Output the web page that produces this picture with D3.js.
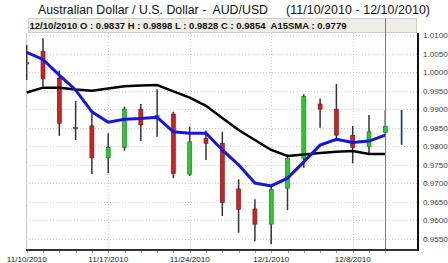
<!DOCTYPE html>
<html><head><meta charset="utf-8">
<script src="https://cdn.jsdelivr.net/npm/d3@7"></script>
<style>body{margin:0;background:#fff}svg{display:block}text{font-family:"Liberation Sans",Arial,sans-serif;white-space:pre}</style>
</head><body><svg id="c" width="448" height="263"></svg>
<script>
const dates = ["11/10/2010","11/11/2010","11/12/2010","11/15/2010","11/16/2010","11/17/2010","11/18/2010","11/19/2010","11/22/2010","11/23/2010","11/24/2010","11/25/2010","11/26/2010","11/29/2010","11/30/2010","12/1/2010","12/2/2010","12/3/2010","12/6/2010","12/7/2010","12/8/2010","12/9/2010","12/10/2010"];
const openV  = [1.0026,1.0055,0.9983,0.9851,0.9855,0.9769,0.9797,0.9900,0.9880,0.9887,0.9725,0.9821,0.9808,0.9685,0.9631,0.9590,0.9687,0.9767,0.9914,0.9900,0.9830,0.9799,0.9837];
const highV  = [1.0073,1.0091,1.0004,0.9922,0.9889,0.9835,0.9907,0.9914,0.9954,0.9893,0.9853,0.9843,0.9839,0.9711,0.9657,0.9696,0.9778,0.9940,0.9929,0.9968,0.9855,0.9884,0.9898];
const lowV   = [0.9979,0.9961,0.9828,0.9817,0.9725,0.9727,0.9788,0.9814,0.9826,0.9714,0.9720,0.9763,0.9612,0.9567,0.9544,0.9536,0.9628,0.9742,0.9850,0.9822,0.9754,0.9779,0.9828];
const closeV = [1.0026,0.9983,0.9862,0.9851,0.9769,0.9797,0.9900,0.9858,0.9883,0.9727,0.9812,0.9808,0.9648,0.9630,0.9590,0.9684,0.9767,0.9934,0.9900,0.9830,0.9797,0.9839,0.9854];
const fastMA = [1.0053,1.0034,0.9992,0.9952,0.9893,0.9865,0.9873,0.9875,0.9878,0.9839,0.9835,0.9835,0.9790,0.9750,0.9701,0.9693,0.9714,0.9758,0.9803,0.9819,0.9810,0.9814,0.9830];
const sma15  = [0.9945,0.9958,0.9958,0.9953,0.9950,0.9956,0.9962,0.9964,0.9965,0.9948,0.9931,0.9909,0.9876,0.9844,0.9817,0.9790,0.9774,0.9778,0.9782,0.9785,0.9787,0.9779,0.9779];
const nextHigh = 0.9898, nextLow = 0.9804;
const yTicks = [1.0100,1.0050,1.0000,0.9950,0.9900,0.9850,0.9800,0.9750,0.9700,0.9650,0.9600,0.9550];
const xLabelIdx = [0,5,10,15,20];
const titleMain = "Australian Dollar / U.S. Dollar -  AUD/USD";
const titleRange = "(11/10/2010 - 12/10/2010)";
const infoText = "12/10/2010 O : 0.9837 H : 0.9898 L : 0.9828 C : 0.9854  A15SMA : 0.9779";

const svg = d3.select("#c");
const L = 26, R = 418, T = 33, B = 250;
const x = d3.scaleLinear().domain([0, 23]).range([26.7, 26.7 + 23*16.3]);
const y = d3.scaleLinear().domain([0.9550, 1.0100]).range([239, 35]);

// title
svg.append("text").attr("x", 38).attr("y", 13.5).attr("font-size", 12.3)
  .attr("textLength", 230).attr("lengthAdjust", "spacing").attr("fill", "#111").text(titleMain);
svg.append("text").attr("x", 286).attr("y", 13.5).attr("font-size", 12.4)
  .attr("textLength", 144).attr("lengthAdjust", "spacing").attr("fill", "#111").text(titleRange);

// info bar
svg.append("rect").attr("x", 28.5).attr("y", 18.5).attr("width", 388).attr("height", 14).attr("fill", "#efeee6").attr("stroke", "#d0d0c8");
svg.append("text").attr("x", 29.5).attr("y", 28.6).attr("font-size", 9.5).attr("font-weight", "bold")
  .attr("textLength", 317).attr("lengthAdjust", "spacing").attr("fill", "#111").text(infoText);

// grid
const grid = svg.append("g");
grid.selectAll("line.h").data(yTicks).join("line")
  .attr("x1", L).attr("x2", R).attr("y1", d => Math.round(y(d))+0.5).attr("y2", d => Math.round(y(d))+0.5)
  .attr("stroke", "#cfcfcf").attr("stroke-dasharray", "1,2");
grid.selectAll("line.v").data(xLabelIdx.slice(1)).join("line")
  .attr("x1", d => Math.round(x(d))+0.5).attr("x2", d => Math.round(x(d))+0.5).attr("y1", T).attr("y2", B)
  .attr("stroke", "#cfcfcf").attr("stroke-dasharray", "1,2");
svg.append("line").attr("x1", L+0.5).attr("x2", L+0.5).attr("y1", T).attr("y2", B).attr("stroke", "#c8c8c8");

svg.append("clipPath").attr("id", "pc").append("rect").attr("x", L).attr("y", T).attr("width", R-L).attr("height", B-T);
const plot = svg.append("g").attr("clip-path", "url(#pc)");

// candles
const idx = d3.range(dates.length);
const col = i => closeV[i] > openV[i] ? "#2fc62f" : (closeV[i] < openV[i] ? "#cc2222" : "#666");
const bcol = i => closeV[i] > openV[i] ? "#1d6e1d" : (closeV[i] < openV[i] ? "#7a1414" : "#444");
plot.selectAll("line.wick").data(idx).join("line")
  .attr("x1", i => x(i)).attr("x2", i => x(i)).attr("y1", i => y(highV[i])).attr("y2", i => y(lowV[i]))
  .attr("stroke", "#333").attr("stroke-width", 1.5);
plot.selectAll("rect.body").data(idx).join("rect")
  .attr("x", i => x(i) - 2).attr("width", 4)
  .attr("y", i => y(Math.max(openV[i], closeV[i])))
  .attr("height", i => Math.max(1.5, Math.abs(y(openV[i]) - y(closeV[i]))))
  .attr("fill", col).attr("stroke", bcol).attr("stroke-width", 0.6);

// moving averages
const line = d3.line().x((d, i) => x(i)).y(d => y(d));
plot.append("path").datum(sma15).attr("d", line).attr("fill", "none").attr("stroke", "#000").attr("stroke-width", 2.5);
plot.append("path").datum(fastMA).attr("d", line).attr("fill", "none").attr("stroke", "#1414e6").attr("stroke-width", 3);

// next bar
svg.append("line").attr("x1", x(23)).attr("x2", x(23)).attr("y1", y(nextHigh)).attr("y2", y(nextLow))
  .attr("stroke", "#23408f").attr("stroke-width", 1.8);

// cursor line
svg.append("line").attr("x1", Math.round(x(22))+0.5).attr("x2", Math.round(x(22))+0.5).attr("y1", 18.5).attr("y2", B)
  .attr("stroke", "#7a7a7a").attr("stroke-width", 1);

// axes
svg.append("line").attr("x1", L).attr("x2", R+1).attr("y1", B).attr("y2", B).attr("stroke", "#333").attr("stroke-width", 2);
svg.append("line").attr("x1", R).attr("x2", R).attr("y1", T).attr("y2", B+1).attr("stroke", "#111").attr("stroke-width", 2);
svg.selectAll("line.xt").data(idx).join("line")
  .attr("x1", i => Math.round(x(i))+0.5).attr("x2", i => Math.round(x(i))+0.5).attr("y1", B+1).attr("y2", B+3)
  .attr("stroke", "#999");
svg.selectAll("text.yl").data(yTicks).join("text")
  .attr("x", 423).attr("y", d => y(d) + 3).attr("font-size", 8.1).attr("fill", "#444")
  .text(d => d.toFixed(4));
svg.selectAll("text.xl").data(xLabelIdx).join("text")
  .attr("x", i => x(i)).attr("y", 261.5).attr("font-size", 8.1).attr("fill", "#222").attr("text-anchor", "middle")
  .text(i => dates[i]);
</script></body></html>
